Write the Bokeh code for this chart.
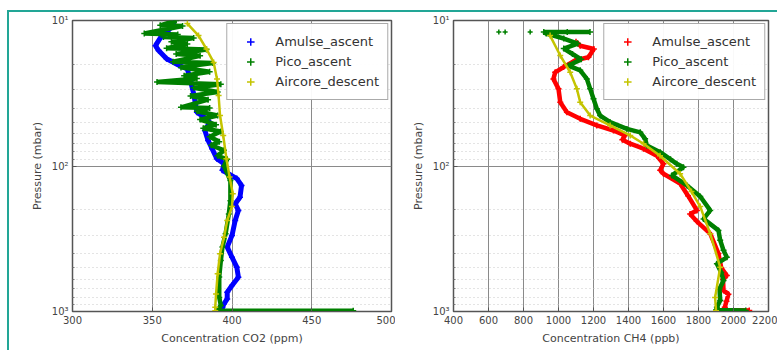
from bokeh.plotting import figure
from bokeh.models import Range1d, FixedTicker, Legend, LegendItem
from bokeh.layouts import row
from bokeh.embed import file_html
from bokeh.resources import INLINE

# ---------------- data (pressure in mbar, concentrations) ----------------
co2_amulse_p = [10.5, 11.4, 12.7, 14.9, 16.1, 18.3, 20.4, 21.5, 26, 32, 37, 42.7, 47.4, 50, 57, 66.8,
                76, 89, 96.6, 107, 122, 136, 164, 182, 202, 237, 300, 361, 424, 496, 581, 662, 736,
                819, 885, 934, 975]
co2_amulse = [363, 361, 356, 352, 354, 359, 367, 372, 374, 376, 377, 378, 384, 386, 383, 385,
              387.5, 390.5, 395, 394, 403, 406, 405, 402, 404, 402, 400, 397, 400, 403, 404, 400, 397,
              397, 395, 394, 394]

co2_pico_p = [10.0, 10.8, 10.9, 12.3, 12.5, 13.0, 13.2, 14.0, 14.5, 15.5, 15.8, 17.0, 17.5, 19.2, 19.6,
              21.0, 22.5, 24.0, 25.0, 26.5, 27.4, 29.0, 31.0, 33.0, 35.0, 39.5, 40.0, 42.0, 45.0, 48.0,
              52.0, 55.0, 58.0, 63.0, 68.0, 72.0, 78.0, 85.0, 90.0, 100, 126, 173, 214, 292, 361, 447,
              580, 800, 910, 985, 990, 995]
co2_pico = [365, 355, 369, 345, 366, 357, 376, 362, 372, 359, 384, 365, 380, 363, 388,
            368, 386, 370, 378, 353, 393, 376, 391, 374, 385, 368, 386, 378, 391, 380,
            390, 382, 393, 386, 392, 387, 395, 391, 397, 395, 399, 399, 398, 396, 394, 393,
            392, 392, 393, 391, 476, 392]

co2_aircore_p = [10.5, 12.7, 15.7, 19.4, 25.2, 32.8, 45, 61.7, 89, 119, 155, 190, 237, 309, 401, 550,
                 759, 934, 990]
co2_aircore = [372, 379, 384, 388.5, 390.6, 391.6, 392.5, 394.5, 396.5, 398.5, 400.5, 400, 397, 395,
               392.5, 391, 390, 389.5, 389.5]

ch4_amulse_p = [14.0, 14.9, 15.7, 17.9, 18.8, 20.9, 22.7, 25.2, 29.5, 36.4, 42.7, 47.4, 52.6, 57, 61.7,
                66, 70.3, 76, 85, 96.6, 107, 113, 132, 160, 202, 214, 240, 292, 400, 500, 566, 600,
                716, 760, 850, 935, 975, 985]
ch4_amulse = [1100, 1124, 1202, 1171, 1095, 1029, 981, 971, 1000, 1010, 1048, 1124, 1219, 1314, 1380,
              1365, 1410, 1486, 1562, 1600, 1581, 1600, 1695, 1740, 1791, 1752, 1790, 1867, 1914, 1930,
              1962, 1940, 1943, 1971, 1960, 1950, 1960, 2090]

ch4_pico_p = [12.0, 12.0, 12.0, 12.3, 13.3, 14.4, 15.6, 17.0, 18.5, 20.4, 22.0, 25.2, 29.5, 34.5, 40.4,
              45, 50, 55.6, 58.7, 65, 72.4, 80.4, 90, 96.6, 102, 116, 136, 162, 202, 231, 277, 324, 380,
              424, 469, 540, 612, 700, 840, 935, 975, 985, 990]
ch4_pico = [1180, 1050, 916, 930, 1030, 1110, 1030, 1080, 1130, 1057, 1124, 1162, 1181, 1200, 1219,
            1238, 1295, 1391, 1467, 1495, 1505, 1581, 1640, 1676, 1714, 1648, 1734, 1810, 1867, 1829,
            1914, 1924, 1943, 1962, 1905, 1930, 1943, 1920, 1924, 1905, 1900, 2070, 1900]
ch4_pico_out_p = [12.0, 12.0, 12.0]
ch4_pico_out = [659, 695, 838]

ch4_aircore_p = [12.7, 17.4, 22.7, 29.5, 36.4, 45, 52.6, 61.7, 70.3, 85, 113, 150, 190, 292, 496, 800, 990]
ch4_aircore = [952, 1010, 1067, 1105, 1124, 1181, 1295, 1410, 1486, 1580, 1695, 1760, 1810, 1867, 1924,
               1895, 1900]

co2_ticks = [300, 350, 400, 450, 500]
ch4_ticks = [400, 600, 800, 1000, 1200, 1400, 1600, 1800, 2000, 2200]
p_ticks = [10, 100, 1000]
p_minor = [20, 30, 40, 50, 60, 70, 80, 90, 200, 300, 400, 500, 600, 700, 800, 900]
p_labels = {10: "10¹", 100: "10²", 1000: "10³"}
labels = ["Amulse_ascent", "Pico_ascent", "Aircore_descent"]

FONT = "DejaVu Sans"
BLUE, GREEN, YELLOW, RED = "#0000ff", "#008000", "#c4c400", "#ff0000"


def make_fig(xr, xticks, xlabel, width, bl, br):
    p = figure(width=width, height=338, y_axis_type="log",
               x_range=Range1d(xr[0], xr[1]), y_range=Range1d(1000, 10),
               output_backend="svg", toolbar_location=None,
               min_border_left=bl, min_border_right=br, min_border_top=8, min_border_bottom=39,
               background_fill_color="white", border_fill_color="white")
    p.outline_line_color = "#555555"
    p.outline_line_width = 1.5
    p.xaxis.ticker = FixedTicker(ticks=xticks)
    p.yaxis.ticker = FixedTicker(ticks=p_ticks, minor_ticks=p_minor)
    p.yaxis.major_label_overrides = p_labels
    p.xaxis.axis_label = xlabel
    p.yaxis.axis_label = "Pressure (mbar)"
    for ax in (p.xaxis, p.yaxis):
        ax.axis_line_color = "#555555"
        ax.major_tick_in = 4
        ax.major_tick_out = 0
        ax.minor_tick_in = 2
        ax.minor_tick_out = 0
        ax.major_tick_line_color = "#555555"
        ax.minor_tick_line_color = "#777777"
        ax.major_label_text_font = FONT
        ax.major_label_text_font_size = "10px"
        ax.major_label_text_color = "#444444"
        ax.axis_label_text_font = FONT
        ax.axis_label_text_font_size = "11px"
        ax.axis_label_text_font_style = "normal"
        ax.axis_label_text_color = "#444444"
        ax.major_label_standoff = 4
        ax.axis_label_standoff = 5
    p.xgrid.grid_line_color = "#8a8a8a"
    p.ygrid.grid_line_color = "#8a8a8a"
    p.ygrid.minor_grid_line_color = "#c8c8c8"
    p.ygrid.minor_grid_line_dash = "1 3"
    return p


def series(p, xs, ys, color, lw):
    p.line(xs, ys, line_color=color, line_width=lw)
    return p.scatter(xs, ys, marker="cross", size=6, line_color=color, line_width=1.5)


def add_legend(p, rends):
    leg = Legend(items=[LegendItem(label=l, renderers=[r]) for l, r in zip(labels, rends)],
                 location="top_right")
    leg.label_text_font = FONT
    leg.label_text_font_size = "13px"
    leg.label_text_color = "#333333"
    leg.border_line_color = "#555555"
    leg.border_line_width = 1
    leg.glyph_width = 30
    leg.glyph_height = 19
    leg.label_height = 19
    leg.label_standoff = 10
    leg.padding = 8
    leg.spacing = 1
    leg.margin = 3
    p.add_layout(leg)


# left: CO2
p1 = make_fig((300, 500), co2_ticks, "Concentration CO2 (ppm)", 386, 63, 4)
r1 = series(p1, co2_amulse, co2_amulse_p, BLUE, 5)
r2 = series(p1, co2_pico, co2_pico_p, GREEN, 4.5)
r3 = series(p1, co2_aircore, co2_aircore_p, YELLOW, 2.5)
add_legend(p1, [r1, r2, r3])

# right: CH4
p2 = make_fig((400, 2200), ch4_ticks, "Concentration CH4 (ppb)", 382, 58, 9)
s1 = series(p2, ch4_amulse, ch4_amulse_p, RED, 4.5)
s2 = series(p2, ch4_pico, ch4_pico_p, GREEN, 4.5)
p2.scatter(ch4_pico_out, ch4_pico_out_p, marker="cross", size=5, line_color=GREEN, line_width=1.5)
s3 = series(p2, ch4_aircore, ch4_aircore_p, YELLOW, 2.5)
add_legend(p2, [s1, s2, s3])

layout = row(p1, p2, margin=(10, 0, 0, 7),
             styles={"border-top": "2px solid #22a696", "border-left": "2px solid #22a696"})

open("out.html", "w").write(file_html(layout, INLINE))
